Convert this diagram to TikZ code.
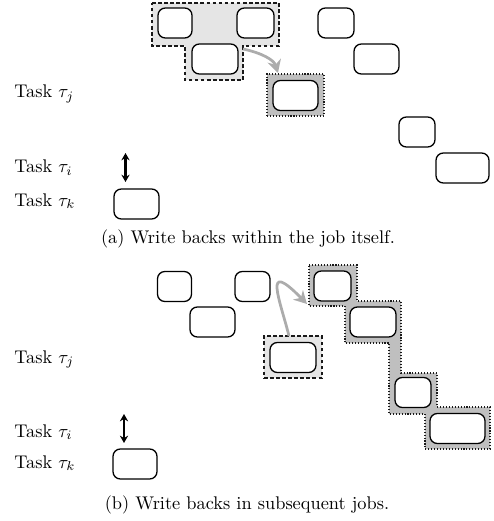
\documentclass[tikz,border=0pt]{standalone}
\usetikzlibrary{arrows.meta}
\def\pxu{0.545pt}
\begin{document}
\begin{tikzpicture}[x=\pxu,y=-\pxu,
  job/.style={draw, line width=0.7pt, rounded corners=4pt, fill=white,
    inner sep=0pt, minimum height=30*\pxu, minimum width=#1*\pxu},
  job/.default=36,
  lightreg/.style={draw=black!90, fill=gray!20, dash pattern=on 2pt off 1.3pt, line width=0.6pt},
  darkreg/.style={draw=black!90, fill=gray!50, dash pattern=on 0.6pt off 1pt, line width=0.6pt},
  wb/.style={draw=gray!65, line width=1.5pt, -{Stealth[length=7pt,width=7.5pt]}},
  dep/.style={line width=1.2pt, {Stealth[length=4pt,width=4.5pt]}-{Stealth[length=4pt,width=4.5pt]}},
  lab/.style={anchor=base west, inner sep=0pt},
  captext/.style={anchor=base, inner sep=0pt}]
\useasboundingbox (0,0) rectangle (493,521);

% ---------- panel (a) ----------
\draw[lightreg] (152,3) -- (279,3) -- (279,46) -- (243,46) -- (243,80)
  -- (185,80) -- (185,46) -- (152,46) -- cycle;
\node[darkreg, minimum width=57*\pxu, minimum height=42*\pxu, inner sep=0pt] (ra) at (295.5,95) {};

\node[job=34] (a1) at (175,23) {};
\node[job=37] (a2) at (255.5,23) {};
\node[job=46] (a3) at (215,59) {};
\node[job=45] (a4) at (295.5,95.5) {};
\node[job=36] (a5) at (336,23) {};
\node[job=45] (a6) at (376.5,59) {};
\node[job=36] (a7) at (417,132) {};
\node[job=53] (a8) at (462.5,168) {};
\node[job=45] (a9) at (136.5,204) {};

\coordinate (sa) at (243,49);
\coordinate (ea) at (278,73);
\draw[wb] (sa) .. controls (262,53) and (274,60) .. (ea);

\coordinate (da1) at (125.5,153);
\coordinate (da2) at (125.5,182);
\draw[dep] (da1) -- (da2);

\node[lab] (lja) at (14,98) {Task $\tau_j$};
\node[lab] (lia) at (14,173) {Task $\tau_i$};
\node[lab] (lka) at (14,206) {Task $\tau_k$};
\node[captext] (capa) at (248,244) {(a) Write backs within the job itself.};

% ---------- panel (b) ----------
\draw[darkreg] (309,265) -- (357,265) -- (357,301) -- (401,301) -- (401,373)
  -- (437,373) -- (437,407) -- (490,407) -- (490,449) -- (425,449) -- (425,414)
  -- (389,414) -- (389,343) -- (345,343) -- (345,306) -- (309,306) -- cycle;
\node[lightreg, minimum width=58*\pxu, minimum height=42*\pxu, inner sep=0pt] (rb) at (293,357) {};

\node[job=34] (b1) at (174.5,286.5) {};
\node[job=35] (b2) at (252.5,286.5) {};
\node[job=45] (b3) at (212.5,322) {};
\node[job=46] (b4) at (293,357.5) {};
\node[job=37] (b5) at (332.5,286) {};
\node[job=46] (b6) at (373,322) {};
\node[job=36] (b7) at (413,392.5) {};
\node[job=55] (b8) at (457.5,428.5) {};
\node[job=44] (b9) at (135,464) {};

\coordinate (sb) at (289,336);
\coordinate (eb) at (307,304);
\draw[wb] (sb) .. controls (280,300) and (262,258) .. (eb);

\coordinate (db1) at (124,414);
\coordinate (db2) at (124,443);
\draw[dep] (db1) -- (db2);

\node[lab] (ljb) at (14,363) {Task $\tau_j$};
\node[lab] (lib) at (14,437) {Task $\tau_i$};
\node[lab] (lkb) at (14,468) {Task $\tau_k$};
\node[captext] (capb) at (247,509) {(b) Write backs in subsequent jobs.};
\end{tikzpicture}
\end{document}
